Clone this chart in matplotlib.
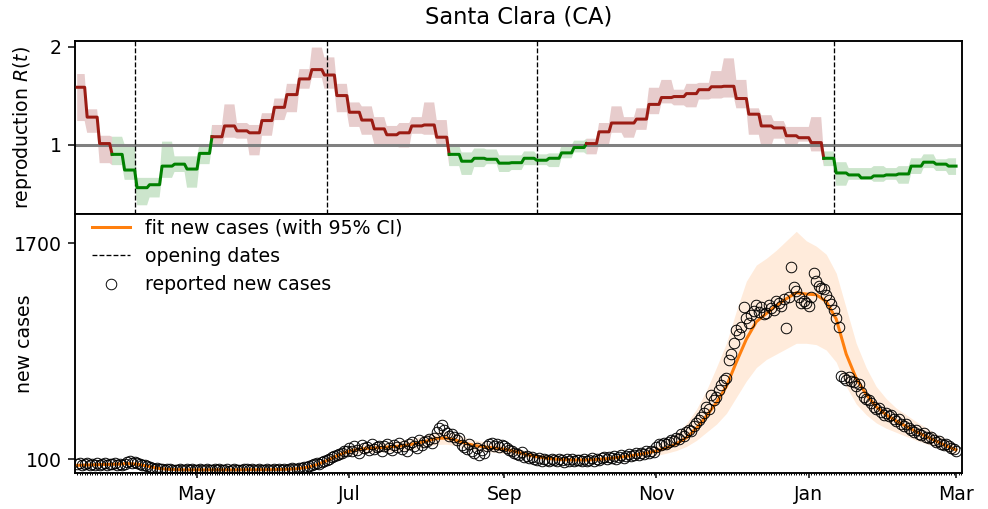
import numpy as np
import pandas as pd
import matplotlib
matplotlib.use("Agg")
import matplotlib.pyplot as plt
import matplotlib.dates as mdates
from matplotlib.lines import Line2D

# === Data: Santa Clara, daily from 2020-03-14 to 2021-03-01 ===
start, end = "2020-03-14", "2021-03-01"
opening_dates = ["2020-04-06", "2020-06-22", "2020-09-14", "2021-01-11"]

# R(t) is piecewise constant: first block 4 days, then 5-day blocks
r_blocks = [1.585, 1.28, 1.01, 0.90, 0.74, 0.56, 0.59, 0.78, 0.80, 0.75,
            0.91, 1.08, 1.19, 1.14, 1.12, 1.245, 1.38, 1.51, 1.67, 1.765,
            1.71, 1.50, 1.33, 1.25, 1.16, 1.10, 1.12, 1.19, 1.20, 1.075,
            0.90, 0.83, 0.86, 0.85, 0.81, 0.815, 0.86, 0.84, 0.86, 0.915,
            0.97, 1.01, 1.13, 1.22, 1.22, 1.26, 1.41, 1.48, 1.49, 1.52,
            1.56, 1.59, 1.595, 1.47, 1.31, 1.19, 1.17, 1.09, 1.07, 1.02,
            0.86, 0.71, 0.69, 0.66, 0.68, 0.69, 0.70, 0.78, 0.82, 0.80, 0.78]
r_lo = [1.24, 1.12, 0.81, 0.79, 0.64, 0.38, 0.46, 0.66, 0.72, 0.56,
        0.80, 0.98, 1.07, 1.06, 0.89, 1.09, 1.25, 1.33, 1.57, 1.68,
        1.57, 1.33, 1.18, 1.10, 1.00, 0.98, 0.97, 1.11, 1.10, 1.00,
        0.78, 0.69, 0.77, 0.80, 0.72, 0.74, 0.79, 0.79, 0.77, 0.86,
        0.92, 0.90, 1.00, 1.12, 1.07, 1.15, 1.31, 1.42, 1.40, 1.38,
        1.46, 1.47, 1.48, 1.37, 1.10, 0.98, 1.06, 0.98, 1.03, 0.93,
        0.78, 0.58, 0.64, 0.64, 0.62, 0.64, 0.60, 0.70, 0.76, 0.73, 0.69]
r_hi = [1.72, 1.36, 1.09, 1.08, 1.00, 0.66, 0.66, 1.03, 0.88, 0.88,
        1.00, 1.20, 1.41, 1.22, 1.20, 1.32, 1.47, 1.62, 1.77, 1.99,
        1.89, 1.62, 1.43, 1.39, 1.28, 1.19, 1.22, 1.28, 1.43, 1.25,
        0.99, 0.92, 0.96, 0.95, 0.89, 0.89, 0.93, 0.90, 0.91, 0.99,
        1.04, 1.06, 1.22, 1.39, 1.28, 1.37, 1.58, 1.66, 1.56, 1.62,
        1.63, 1.75, 1.88, 1.66, 1.37, 1.30, 1.24, 1.18, 1.18, 1.28,
        0.93, 0.82, 0.76, 0.76, 0.78, 0.76, 0.78, 0.86, 0.90, 0.85, 0.86]

# reported new cases, one value per day
cases_2020 = [
    # Mar
    62, 70, 58, 66, 74, 55, 68, 61, 72, 59, 64, 70, 57, 66, 62, 71, 58, 65,
    # Apr
    60, 66, 78, 84, 75, 82, 70, 63, 55, 58, 47, 40, 36, 30, 33, 26, 28, 22, 25, 30,
    21, 24, 19, 27, 23, 18, 25, 21, 29, 20,
    # May
    22, 26, 18, 24, 30, 20, 17, 25, 23, 28, 19, 21, 26, 16, 24, 29, 20, 22, 18, 27,
    25, 21, 30, 19, 23, 26, 17, 24, 28, 22, 20,
    # Jun
    25, 21, 28, 24, 30, 22, 27, 33, 26, 31, 35, 38, 42, 40, 50, 55, 62, 70, 66, 82,
    90, 98, 105, 118, 125, 135, 142, 150, 158, 165,
    # Jul
    185, 160, 198, 172, 150, 205, 180, 192, 168, 210, 175, 188, 200, 158, 195, 215,
    182, 170, 205, 190, 222, 178, 200, 165, 212, 230, 196, 185, 240, 208, 225,
    # Aug
    235, 250, 218, 260, 300, 335, 352, 320, 298, 270, 285, 262, 240, 255, 205, 190,
    175, 210, 160, 145, 185, 130, 170, 150, 195, 210, 220, 200, 215, 190, 205,
    # Sep
    195, 180, 170, 160, 150, 140, 132, 155, 120, 128, 110, 118, 105, 98, 112, 90,
    104, 95, 88, 100, 92, 85, 105, 96, 80, 99, 90, 102, 86, 95,
    # Oct
    98, 90, 105, 88, 96, 110, 85, 100, 94, 108, 115, 102, 118, 110, 125, 105, 120,
    130, 112, 128, 138, 122, 135, 145, 130, 150, 140, 158, 148, 165, 152,
    # Nov
    190, 210, 205, 218, 215, 225, 240, 232, 260, 250, 285, 270, 300, 320, 310, 345,
    367, 390, 410, 440, 490, 470, 576, 540, 564, 610, 650, 690, 700, 836,
    # Dec
    880, 960, 1058, 1030, 1082, 1226, 1150, 1110, 1169, 1200, 1243, 1193, 1230,
    1175, 1186, 1243, 1220, 1206, 1270, 1256, 1240, 1290, 1070, 1300, 1522, 1380,
    1349, 1300, 1260, 1275, 1256,
]
cases_2021 = [
    # Jan
    1236, 1300, 1482, 1420, 1384, 1370, 1359, 1320, 1280, 1250, 1206, 1150, 1078,
    720, 700, 690, 712, 680, 675, 640, 658, 600, 564, 550, 539, 515, 490, 470, 480,
    450, 430,
    # Feb
    445, 420, 430, 395, 385, 400, 365, 350, 360, 330, 320, 305, 315, 290, 280, 295,
    265, 255, 262, 240, 230, 238, 215, 205, 212, 195, 185, 178,
    # Mar
    165,
]

# model fit and 95% CI, every 4th day
fit = [55, 58, 60, 62, 64, 68, 64, 50, 34, 26, 23, 22, 22, 22, 22, 22, 22, 23,
       23, 23, 24, 26, 30, 40, 60, 90, 125, 155, 172, 180, 185, 190, 196, 205,
       218, 235, 255, 258, 240, 215, 200, 190, 182, 172, 155, 135, 120, 108, 100,
       96, 95, 95, 98, 104, 112, 122, 133, 145, 162, 185, 215, 260, 330, 420, 520,
       640, 820, 990, 1120, 1180, 1240, 1290, 1335, 1325, 1320, 1270, 1140, 880,
       700, 580, 490, 430, 385, 345, 305, 270, 235, 200, 170]
fit_lo = [45, 48, 50, 52, 54, 57, 53, 41, 27, 20, 17, 17, 17, 17, 17, 17, 17, 18,
          18, 18, 19, 20, 23, 31, 47, 70, 100, 125, 140, 148, 152, 156, 160, 168,
          178, 192, 210, 212, 198, 177, 165, 157, 150, 142, 128, 112, 100, 90, 83,
          80, 79, 79, 81, 86, 92, 100, 108, 117, 128, 145, 165, 195, 240, 300, 360,
          440, 560, 680, 780, 840, 880, 920, 960, 960, 950, 910, 820, 640,
          510, 430, 370, 330, 300, 270, 240, 215, 190, 162, 138]
fit_hi = [68, 70, 72, 75, 77, 82, 78, 62, 43, 33, 29, 29, 29, 29, 29, 29, 29, 30,
          30, 30, 31, 33, 38, 51, 76, 113, 155, 188, 208, 216, 222, 228, 236, 248,
          262, 282, 305, 308, 288, 258, 240, 228, 218, 206, 186, 162, 144, 130, 120,
          115, 114, 114, 118, 126, 136, 150, 165, 182, 208, 245, 295, 365, 470, 610,
          780, 960, 1200, 1420, 1540, 1590, 1650, 1720, 1790, 1720, 1680, 1620,
          1480, 1220, 960, 780, 640, 550, 480, 430, 380, 335, 290, 248, 206]

# === Build daily series ===
dates = pd.date_range(start, end, freq="D")
cases = np.array(cases_2020 + cases_2021)
fit_dates = dates[::4]
block_len = [4] + [5] * (len(r_blocks) - 1)
r = np.repeat(r_blocks, block_len)[:len(dates)]
r_low = np.repeat(r_lo, block_len)[:len(dates)]
r_high = np.repeat(r_hi, block_len)[:len(dates)]

RED = "#9b1c14"
GREEN = "#008000"

plt.rcParams["font.family"] = ["DejaVu Sans"]
plt.rcParams["axes.linewidth"] = 1.0

DPI = 136
fig = plt.figure(figsize=(988 / DPI, 509 / DPI), dpi=DPI)
ax_r = fig.add_axes([0.0759, 0.5805, 0.8981, 0.3395])
ax_c = fig.add_axes([0.0759, 0.0701, 0.8981, 0.5104], sharex=ax_r)

# --- top panel: reproduction number ---
above = r >= 1
below = ~above
above_fill = above | np.r_[False, above[:-1]]
below_fill = below | np.r_[False, below[:-1]]
ax_r.fill_between(dates, r_low, r_high, where=above_fill, color="darkred",
                  alpha=0.2, lw=0)
ax_r.fill_between(dates, r_low, r_high, where=below_fill, color="green",
                  alpha=0.2, lw=0)
ax_r.axhline(1, color="gray", lw=1.6, zorder=2)

# one polyline per run of days above / below 1
seg_up = r[:-1] >= 1
breaks = np.flatnonzero(np.diff(seg_up.astype(int))) + 1
run_starts = np.r_[0, breaks]
run_stops = np.r_[breaks, len(r) - 1]
for s, e in zip(run_starts, run_stops):
    ax_r.plot(dates[s:e + 1], r[s:e + 1], color=RED if seg_up[s] else GREEN,
              lw=1.6, zorder=3)

for d in opening_dates:
    ax_r.axvline(pd.Timestamp(d), color="k", ls="--", lw=0.7)

ax_r.set_ylim(0.296, 2.06)
ax_r.set_yticks([1, 2])
ax_r.set_ylabel("reproduction $R(t)$")
ax_r.set_title("Santa Clara (CA)", fontsize=12, pad=9)
ax_r.tick_params(axis="x", which="both", bottom=False, labelbottom=False)

# --- bottom panel: new cases ---
ax_c.fill_between(fit_dates, fit_lo, fit_hi, color="tab:orange", alpha=0.15,
                  lw=0)
ax_c.plot(fit_dates, fit, color="tab:orange", lw=1.6, zorder=3)
ax_c.plot(dates, cases, "o", mfc="none", mec="k", mew=0.5, ms=5.6, zorder=4)

ax_c.set_ylim(-4, 1922)
ax_c.set_yticks([100, 1700])
ax_c.set_ylabel("new cases")
ax_c.set_xlim(pd.Timestamp("2020-03-13 03:00"), pd.Timestamp("2021-03-03 12:00"))
ax_c.xaxis.set_major_locator(mdates.MonthLocator(bymonth=[1, 3, 5, 7, 9, 11]))
ax_c.xaxis.set_major_formatter(mdates.DateFormatter("%b"))
ax_c.xaxis.set_minor_locator(mdates.DayLocator())
ax_c.tick_params(axis="x", which="major", length=2.7)
ax_c.tick_params(axis="x", which="minor", length=1.2, width=0.5)

handles = [
    Line2D([], [], color="tab:orange", lw=1.6),
    Line2D([], [], color="k", ls="--", lw=0.7),
    Line2D([], [], ls="none", marker="o", mfc="none", mec="k", mew=0.5, ms=5.6),
]
labels = ["fit new cases (with 95% CI)", "opening dates", "reported new cases"]
ax_c.legend(handles, labels, loc="upper left", frameon=False,
            bbox_to_anchor=(0, 1.046))

# both y labels sit in the same column
for ax in (ax_r, ax_c):
    ax.yaxis.set_label_coords(-0.046, 0.5)

fig.savefig("out.png", dpi=DPI)
plt.close(fig)
